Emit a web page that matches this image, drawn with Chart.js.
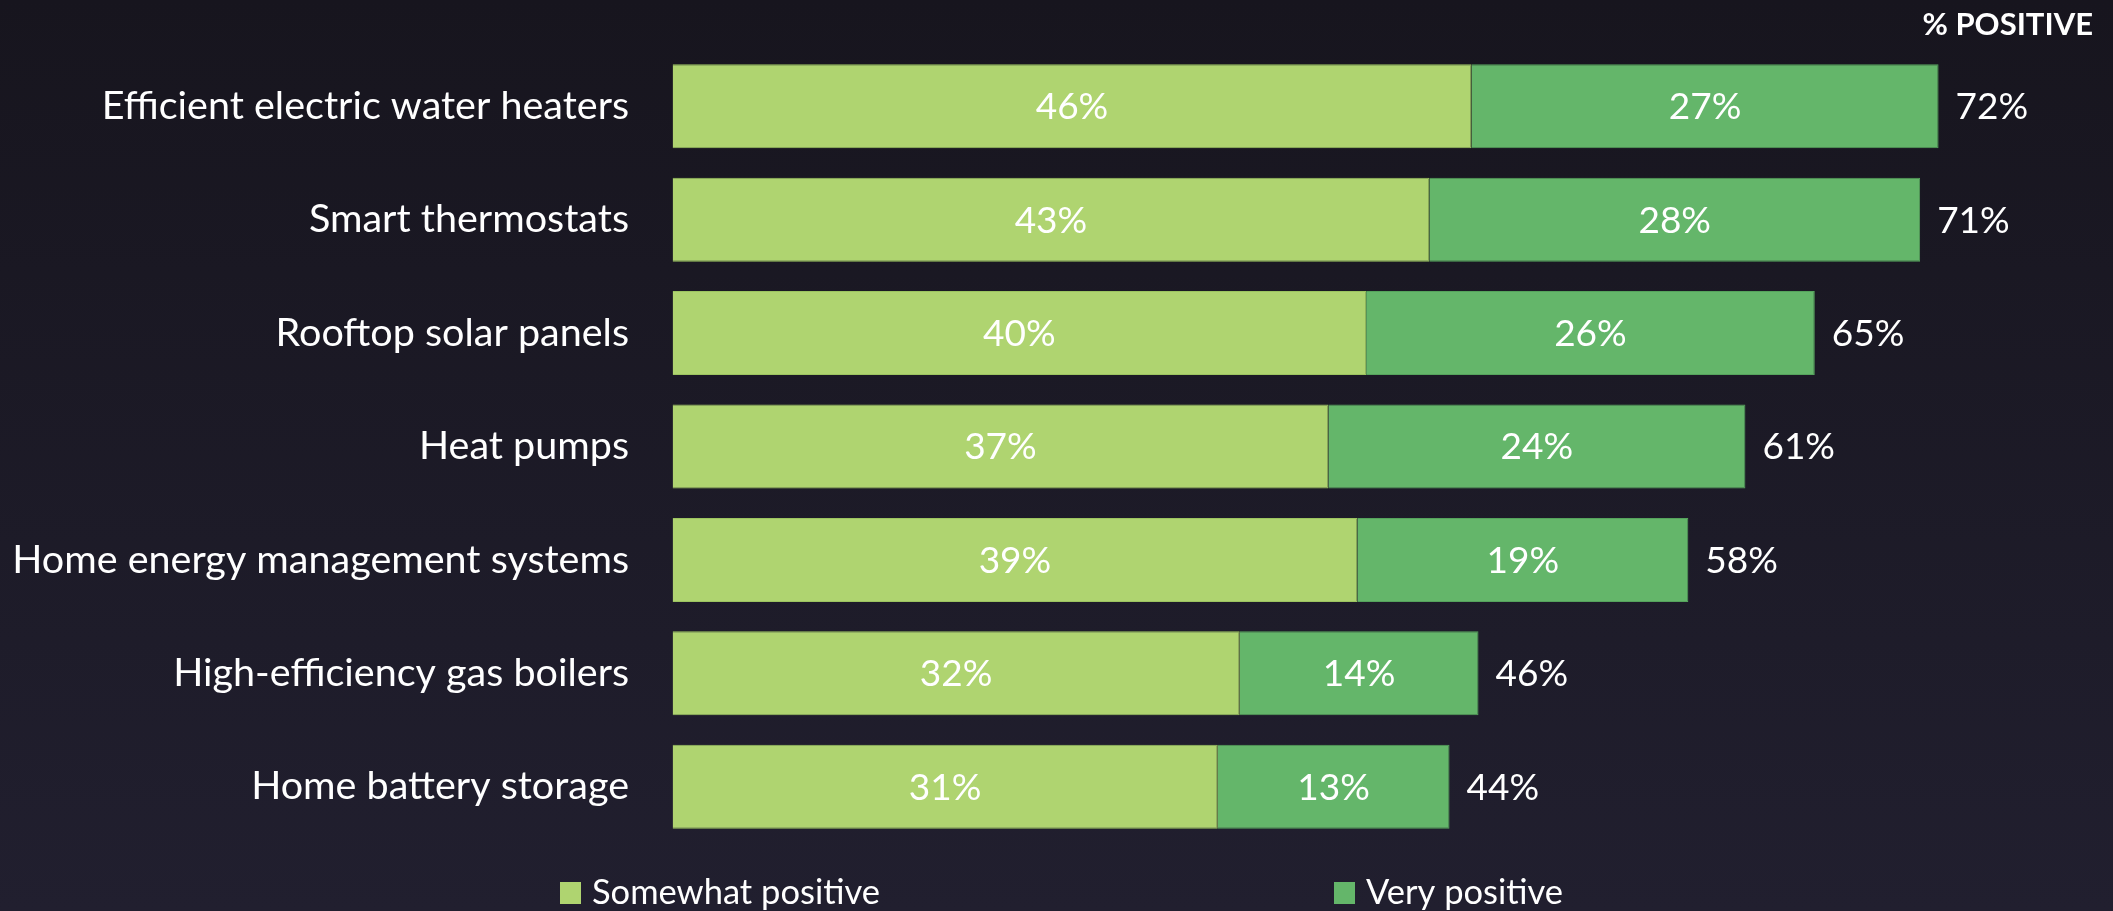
<!DOCTYPE html>
<html>
<head>
<meta charset="utf-8">
<script src="https://cdn.jsdelivr.net/npm/chart.js@4.4.1/dist/chart.umd.min.js"></script>
<style>
    html, body {
        margin: 0;
        padding: 0;
    }
    body {
        width: 2113px;
        height: 911px;
        overflow: hidden;
        background: linear-gradient(to bottom, #17151e, #211f2f);
    }
    #chart_wrap {
        position: relative;
        width: 2113px;
        height: 911px;
    }
</style>
</head>
<body>
<div id="chart_wrap">
    <canvas id="chart_positive" width="2113" height="911"></canvas>
</div>
<script>
// categorii si valori
var categories = ['Efficient electric water heaters', 'Smart thermostats', 'Rooftop solar panels', 'Heat pumps',
    'Home energy management systems', 'High-efficiency gas boilers', 'Home battery storage'];
var somewhat_positive = [45.5, 43.1, 39.5, 37.35, 39.0, 32.3, 31.05];
var very_positive = [26.6, 27.95, 25.55, 23.75, 18.85, 13.6, 13.2];
var series_names = ['Somewhat positive', 'Very positive'];
var series_colors = ['#afd470', '#64b66a'];
var series_borders = ['#9cc460', '#55a35c'];
var header_text = '% POSITIVE';

var font_family = 'Lato, "Open Sans", sans-serif';
var text_color = '#ffffff';

function pct(v) {
    return Math.round(v) + '%';
}

// etichete in bare + totalul la capatul barei
var labelsPlugin = {
    id: 'barLabels',
    afterDatasetsDraw: function (chart) {
        var ctx = chart.ctx;
        ctx.save();
        ctx.fillStyle = text_color;
        ctx.font = '37px ' + font_family;
        ctx.textBaseline = 'middle';
        ctx.textAlign = 'center';
        chart.data.datasets.forEach(function (ds, di) {
            var meta = chart.getDatasetMeta(di);
            meta.data.forEach(function (bar, i) {
                ctx.fillText(pct(ds.data[i]), (bar.x + bar.base) / 2, bar.y + 1);
            });
        });
        var lastMeta = chart.getDatasetMeta(chart.data.datasets.length - 1);
        ctx.textAlign = 'left';
        lastMeta.data.forEach(function (bar, i) {
            var total = somewhat_positive[i] + very_positive[i];
            ctx.fillText(pct(total), bar.x + 17, bar.y + 1);
        });
        ctx.restore();
    },
    afterDraw: function (chart) {
        var ctx = chart.ctx;
        ctx.save();
        // titlu dreapta sus
        ctx.fillStyle = text_color;
        ctx.font = 'bold 31px ' + font_family;
        ctx.textAlign = 'right';
        ctx.textBaseline = 'alphabetic';
        ctx.fillText(header_text, 2093, 35);

        // legenda facuta de mana, ca in original
        var legend_x = [560, 1334];
        ctx.font = '34.5px ' + font_family;
        ctx.textAlign = 'left';
        chart.data.datasets.forEach(function (ds, di) {
            var x = legend_x[di];
            ctx.fillStyle = ds.backgroundColor;
            ctx.fillRect(x, 882, 21, 22);
            ctx.fillStyle = text_color;
            ctx.fillText(ds.label, x + 32, 904);
        });
        ctx.restore();
    }
};

var chart_ctx = document.getElementById('chart_positive').getContext('2d');
var chart_config = {
    type: 'bar',
    data: {
        labels: categories,
        datasets: [{
            label: series_names[0],
            data: somewhat_positive,
            backgroundColor: series_colors[0],
            borderColor: series_borders[0],
            borderWidth: 1
        }, {
            label: series_names[1],
            data: very_positive,
            backgroundColor: series_colors[1],
            borderColor: series_borders[1],
            borderWidth: 1
        }]
    },
    options: {
        indexAxis: 'y',
        responsive: false,
        animation: false,
        layout: {
            padding: { left: 0, right: 35.7, top: 49.6, bottom: 67.6 }
        },
        datasets: {
            bar: {
                categoryPercentage: 1,
                barPercentage: 0.741
            }
        },
        plugins: {
            legend: { display: false },
            tooltip: { enabled: false }
        },
        scales: {
            x: {
                display: false,
                stacked: true,
                min: 0,
                max: 80
            },
            y: {
                stacked: true,
                grid: { display: false, drawTicks: false },
                border: { display: false },
                ticks: {
                    color: text_color,
                    padding: 43.5,
                    font: { family: font_family, size: 39.5 }
                },
                afterFit: function (scale) {
                    // latime fixa si fara padding sus/jos de la etichete
                    scale.width = 672.5;
                    scale.paddingTop = 0;
                    scale.paddingBottom = 0;
                }
            }
        }
    },
    plugins: [labelsPlugin]
};

var positive_chart = new Chart(chart_ctx, chart_config);
</script>
</body>
</html>
